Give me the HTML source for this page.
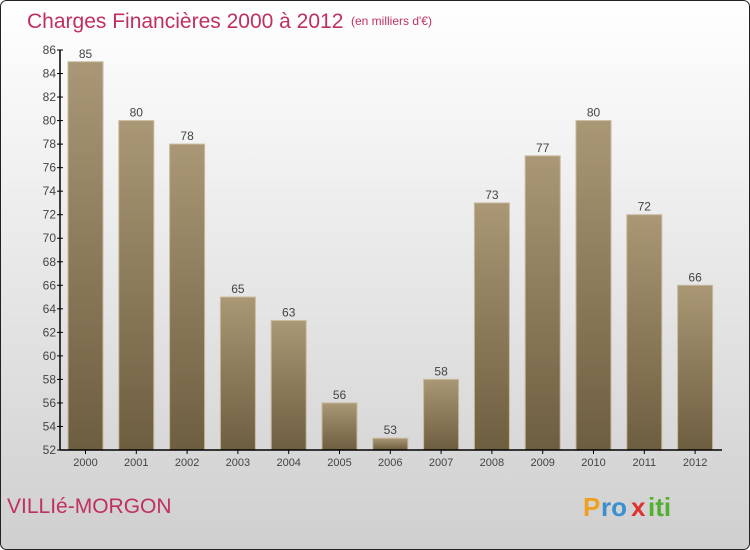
<!DOCTYPE html>
<html><head><meta charset="utf-8"><style>
html,body{margin:0;padding:0;width:750px;height:550px;overflow:hidden;font-family:"Liberation Sans",sans-serif}
</style></head><body>
<svg id="chart" width="750" height="550" xmlns="http://www.w3.org/2000/svg">
<defs>
<linearGradient id="bg" x1="0" y1="0" x2="0" y2="1"><stop offset="0" stop-color="#ffffff"/><stop offset="1" stop-color="#cfcfcf"/></linearGradient>
<linearGradient id="bar" x1="0" y1="0" x2="0" y2="1"><stop offset="0" stop-color="#a99775"/><stop offset="1" stop-color="#6e5e40"/></linearGradient>
</defs>
<rect x="0.5" y="0.5" width="749" height="549" rx="6" fill="url(#bg)" stroke="#222"/>
<text x="27" y="28" font-size="21" fill="#c0305f">Charges Financières 2000 à 2012</text>
<text x="351" y="25" font-size="12" fill="#c0305f">(en milliers d'€)</text>
<text x="7" y="513" font-size="21" fill="#c0305f">VILLIé-MORGON</text>
<g font-size="26" font-weight="bold">
<text x="583" y="516" fill="#f0a020">P</text><text x="601" y="516" fill="#3a8fd0">ro</text><text x="631" y="516" fill="#e03030">x</text><text x="648" y="516" fill="#50b030">iti</text>
</g>
<g id="plot"></g>
</svg>
<script>
const years=["2000","2001","2002","2003","2004","2005","2006","2007","2008","2009","2010","2011","2012"];
const values=[85,80,78,65,63,56,53,58,73,77,80,72,66];
const yTicks=[52,54,56,58,60,62,64,66,68,70,72,74,76,78,80,82,84,86];
const NS="http://www.w3.org/2000/svg";
const g=document.getElementById('plot');
const yMin=52,yMax=86,y0=450,y1=50;
const yScale=v=>y0-(v-yMin)/(yMax-yMin)*(y0-y1);
const xScale=i=>85.5+i*50.8;
function mk(t,a,txt){const e=document.createElementNS(NS,t);for(const k in a)e.setAttribute(k,a[k]);if(txt!==undefined)e.textContent=txt;g.appendChild(e);return e;}
values.forEach((v,i)=>{
 const x=xScale(i),y=yScale(v);
 const r=mk('rect',{x:x-17.5,y:y,width:35,height:y0-y,fill:'url(#bar)',stroke:'#c8b99a','stroke-width':1});
 
 
 const l=mk('text',{x:x,y:y-4,'font-size':12,fill:'#444','text-anchor':'middle'},String(v));
 
 
 const t=mk('text',{x:x,y:466,'font-size':11,fill:'#444','text-anchor':'middle'},years[i]);
 
 
 const tk=mk('line',{x1:x,x2:x,y1:450,y2:454,stroke:'#000'});
 
 
});
yTicks.forEach(v=>{
 const y=yScale(v);
 const tk=mk('line',{x1:57,x2:63,y1:y,y2:y,stroke:'#000'});
 
 
 const t=mk('text',{x:56,y:y+4,'font-size':12,fill:'#444','text-anchor':'end'},String(v));
 
 
});
const ya=mk('line',{x1:60,x2:60,y1:50,y2:450,stroke:'#000','stroke-width':1.5});


const xa=mk('line',{x1:60,x2:722,y1:450,y2:450,stroke:'#000','stroke-width':1.5});


</script>
</body></html>
